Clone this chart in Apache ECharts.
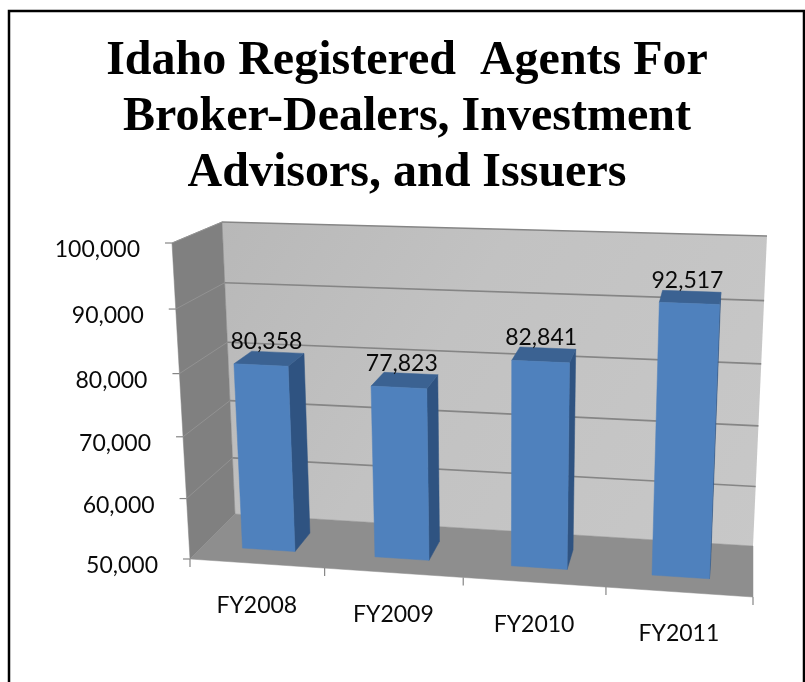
<!DOCTYPE html>
<html><head><meta charset="utf-8">
<style>html,body{margin:0;padding:0;background:#fff}#c{width:805px;height:682px}</style>
<script src="https://cdn.jsdelivr.net/npm/echarts@6/dist/echarts.min.js"></script>
</head><body><div id="c"></div>
<script>
const titleText = 'Idaho Registered  Agents For\nBroker-Dealers, Investment\nAdvisors, and Issuers';
const categories = ['FY2008', 'FY2009', 'FY2010', 'FY2011'];
const agents = [80358, 77823, 82841, 92517];
const yTicks = [50000, 60000, 70000, 80000, 90000, 100000];

// Perspective frame of the 3-D box: [u=0,v=0], [u=1,v=0], [u=1,v=1], [u=0,v=1]
const backQuad = [[235, 514], [753, 546], [767, 236], [222, 222]];
const frontQuad = [[190, 559], [753, 597], [768, 263], [172, 243]];
const barU = [0.3, 0.7], barD = [0.3, 0.7]; // bar footprint in its band / depth

function quadMap(q) {
  const [[x0,y0],[x1,y1],[x2,y2],[x3,y3]] = q;
  const dx1=x1-x2, dx2=x3-x2, sx=x0-x1+x2-x3, dy1=y1-y2, dy2=y3-y2, sy=y0-y1+y2-y3;
  const det=dx1*dy2-dx2*dy1, g=(sx*dy2-dx2*sy)/det, h=(dx1*sy-sx*dy1)/det;
  const a=x1-x0+g*x1, b=x3-x0+h*x3, d=y1-y0+g*y1, e=y3-y0+h*y3;
  return (u,v)=>{const w=g*u+h*v+1; return [(a*u+b*v+x0)/w,(d*u+e*v+y0)/w];};
}
const back = quadMap(backQuad), front = quadMap(frontQuad);
// depth: 0 = back wall, 1 = front edge
function project(u,v,t){const p=back(u,v),q=front(u,v);return [p[0]+(q[0]-p[0])*t,p[1]+(q[1]-p[1])*t];}
function norm(api,params,cat,val){
  const cs=params.coordSys, p=api.coord([cat,val]);
  return [(p[0]-cs.x)/cs.width,(cs.y+cs.height-p[1])/cs.height];
}
const poly=(points,fill)=>({type:'polygon',shape:{points},style:{fill,stroke:fill,lineWidth:0.5}});
const line=(a,b,stroke,w)=>({type:'line',shape:{x1:a[0],y1:a[1],x2:b[0],y2:b[1]},style:{stroke,lineWidth:w}});

const fontFamily='Lato';
function label(pos,text,align){
  return {type:'text',x:pos[0],y:pos[1],style:{text,fill:'#0a0a0a',font:'23px '+fontFamily,align:align,verticalAlign:'middle'}};
}

const chart=echarts.init(document.getElementById('c'),null,{renderer:'canvas'});
chart.setOption({
  animation:false,
  backgroundColor:'#fff',
  title:{text:titleText,left:402,top:29,textAlign:'center',
    textStyle:{fontFamily:'Liberation Serif',fontWeight:'bold',fontSize:48,lineHeight:56,color:'#000'}},
  graphic:[{type:'polyline',shape:{points:[[9,682],[9,11],[804,11],[804,682]]},style:{stroke:'#000',lineWidth:2.5,fill:null}}],
  grid:{left:172,top:222,width:595,height:375},
  xAxis:{type:'category',data:categories,show:false},
  yAxis:{type:'value',min:50000,max:100000,interval:10000,show:false},
  series:[
    { // walls and floor
      type:'custom',z:1,silent:true,data:[[0,50000]],
      renderItem(params,api){
        const P=(u,v,t)=>project(u,v,t);
        return {type:'group',children:[
          {type:'polygon',shape:{points:[P(0,0,0),P(1,0,0),P(1,1,0),P(0,1,0)]},
           style:{fill:new echarts.graphic.LinearGradient(0,0,1,1,[{offset:0,color:'#b8b8b8'},{offset:0.4,color:'#c2c2c2'},{offset:1,color:'#c8c8c8'}])}},
          poly([P(0,0,1),P(0,0,0),P(0,1,0),P(0,1,1)],'#808080'),
          poly([P(0,0,1),P(1,0,1),P(1,0,0),P(0,0,0)],'#8e8e8e')
        ]};
      }
    },
    { // gridlines and value ticks
      type:'custom',z:2,silent:true,data:yTicks.map(v=>[0,v]),
      renderItem(params,api){
        const val=api.value(1), v=norm(api,params,0,val)[1];
        const a=project(0,v,1), b=project(0,v,0), c=project(1,v,0);
        const kids=[line([a[0]-7,a[1]],a,'#868686',1.2)];
        if(val>50000){kids.push(line(a,b,'#929292',1));}
        if(val>50000){kids.push(line(b,c,'#858585',1.6));}
        kids.push(label([a[0]-32,a[1]+7],val.toLocaleString('en-US'),'right'));
        return {type:'group',children:kids};
      }
    },
    { // category ticks and labels
      type:'custom',z:2,silent:true,data:categories.map((c,i)=>[i,50000]),
      renderItem(params,api){
        const i=api.value(0), size=api.size([1,0])[0], cs=params.coordSys;
        const uc=norm(api,params,i,50000)[0], du=size/cs.width/2;
        const l=project(uc-du,0,1), r=project(uc+du,0,1), m=project(uc,0,1);
        const kids=[line(l,[l[0],l[1]+8],'#868686',1.2)];
        if(i===categories.length-1)kids.push(line(r,[r[0],r[1]+8],'#868686',1.2));
        kids.push(label([m[0],m[1]+42],categories[i],'center'));
        return {type:'group',children:kids};
      }
    },
    { // bars
      name:'Registered agents',type:'custom',z:3,
      data:agents.map((v,i)=>[i,v]),
      renderItem(params,api){
        const i=api.value(0), val=api.value(1), size=api.size([1,0])[0], cs=params.coordSys;
        const uc=norm(api,params,i,val)[0], v=norm(api,params,i,val)[1], band=size/cs.width;
        const u0=uc-band/2+band*barU[0], u1=uc-band/2+band*barU[1];
        const F=barD[1], B=barD[0];
        const top=project((u0+u1)/2,v,(F+B)/2);
        return {type:'group',children:[
          poly([project(u1,0,F),project(u1,0,B),project(u1,v,B),project(u1,v,F)],'#2f5381'),
          poly([project(u0,v,F),project(u1,v,F),project(u1,v,B),project(u0,v,B)],'#3b6292'),
          poly([project(u0,0,F),project(u1,0,F),project(u1,v,F),project(u0,v,F)],'#4f81bd'),
          label([top[0]-3,top[1]-17],val.toLocaleString('en-US'),'center')
        ]};
      }
    }
  ]
});
</script></body></html>
